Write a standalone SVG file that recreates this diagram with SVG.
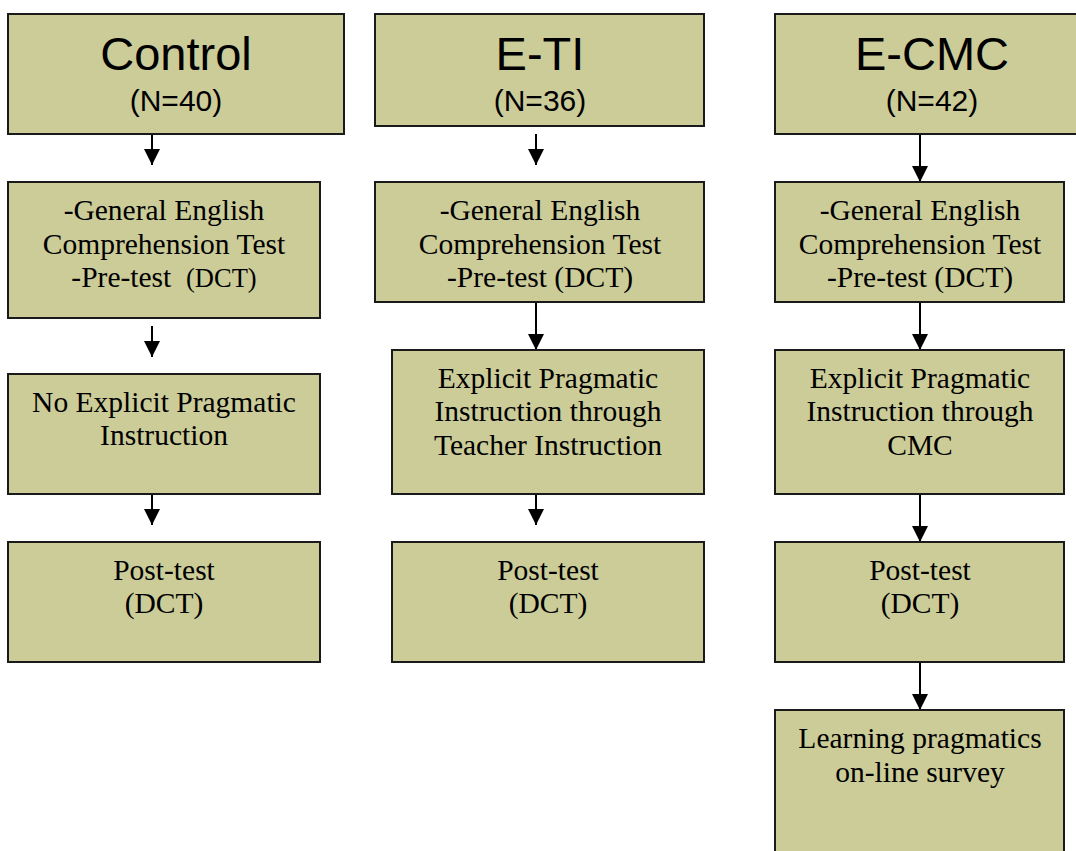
<svg xmlns="http://www.w3.org/2000/svg" width="1076" height="851" viewBox="0 0 1076 851">
<style>
.box{fill:#cccc99;stroke:#1a1a1a;stroke-width:2}
.h1{font-family:"Liberation Sans",Arial,sans-serif;font-size:47px;text-anchor:middle;fill:#000}
.h2{font-family:"Liberation Sans",Arial,sans-serif;font-size:30px;text-anchor:middle;fill:#000}
.t{font-family:"Liberation Serif","Times New Roman",serif;font-size:29.5px;text-anchor:middle;fill:#000}
.c{stroke:#000;stroke-width:2;fill:none}
</style>
<defs>
<marker id="ah" markerUnits="userSpaceOnUse" markerWidth="18" markerHeight="16" refX="16" refY="8" orient="auto">
<path d="M0,0 L16,8 L0,16 Z" fill="#000"/>
</marker>
</defs>
<rect width="1076" height="851" fill="#fff"/>
<g id="connectors">
<line class="c" x1="152" y1="134" x2="152" y2="165" marker-end="url(#ah)"/>
<line class="c" x1="152" y1="326" x2="152" y2="357" marker-end="url(#ah)"/>
<line class="c" x1="152" y1="494" x2="152" y2="525" marker-end="url(#ah)"/>
<line class="c" x1="536" y1="134" x2="536" y2="165" marker-end="url(#ah)"/>
<line class="c" x1="536" y1="302" x2="536" y2="350" marker-end="url(#ah)"/>
<line class="c" x1="536" y1="494" x2="536" y2="525" marker-end="url(#ah)"/>
<line class="c" x1="920" y1="134" x2="920" y2="182" marker-end="url(#ah)"/>
<line class="c" x1="920" y1="302" x2="920" y2="350" marker-end="url(#ah)"/>
<line class="c" x1="920" y1="494" x2="920" y2="542" marker-end="url(#ah)"/>
<line class="c" x1="920" y1="662" x2="920" y2="710" marker-end="url(#ah)"/>
</g>
<g id="control-header">
<rect class="box" x="8" y="14" width="336" height="120"/>
<text class="h1" x="176" y="70">Control</text>
<text class="h2" x="176" y="111">(N=40)</text>
</g>
<g id="control-pretest">
<rect class="box" x="8" y="182" width="312" height="136"/>
<text class="t" x="164" y="220">-General English</text>
<text class="t" x="164" y="254">Comprehension Test</text>
<text class="t" x="164" y="287" xml:space="preserve">-Pre-test  <tspan font-size="26.5px">(DCT)</tspan></text>
</g>
<g id="control-instruction">
<rect class="box" x="8" y="374" width="312" height="120"/>
<text class="t" x="164" y="412">No Explicit Pragmatic</text>
<text class="t" x="164" y="445">Instruction</text>
</g>
<g id="control-posttest">
<rect class="box" x="8" y="542" width="312" height="120"/>
<text class="t" x="164" y="580">Post-test</text>
<text class="t" x="164" y="613">(DCT)</text>
</g>
<g id="eti-header">
<rect class="box" x="375" y="14" width="329" height="112"/>
<text class="h1" x="540" y="70">E-TI</text>
<text class="h2" x="540" y="111">(N=36)</text>
</g>
<g id="eti-pretest">
<rect class="box" x="375" y="182" width="329" height="120"/>
<text class="t" x="540" y="220">-General English</text>
<text class="t" x="540" y="254">Comprehension Test</text>
<text class="t" x="540" y="287">-Pre-test (DCT)</text>
</g>
<g id="eti-instruction">
<rect class="box" x="392" y="350" width="312" height="144"/>
<text class="t" x="548" y="388">Explicit Pragmatic</text>
<text class="t" x="548" y="421">Instruction through</text>
<text class="t" x="548" y="455">Teacher Instruction</text>
</g>
<g id="eti-posttest">
<rect class="box" x="392" y="542" width="312" height="120"/>
<text class="t" x="548" y="580">Post-test</text>
<text class="t" x="548" y="613">(DCT)</text>
</g>
<g id="ecmc-header">
<rect class="box" x="775" y="14" width="314" height="120"/>
<text class="h1" x="932" y="70">E-CMC</text>
<text class="h2" x="932" y="111">(N=42)</text>
</g>
<g id="ecmc-pretest">
<rect class="box" x="775" y="182" width="289" height="120"/>
<text class="t" x="920" y="220">-General English</text>
<text class="t" x="920" y="254">Comprehension Test</text>
<text class="t" x="920" y="287">-Pre-test (DCT)</text>
</g>
<g id="ecmc-instruction">
<rect class="box" x="775" y="350" width="289" height="144"/>
<text class="t" x="920" y="388">Explicit Pragmatic</text>
<text class="t" x="920" y="421">Instruction through</text>
<text class="t" x="920" y="455">CMC</text>
</g>
<g id="ecmc-posttest">
<rect class="box" x="775" y="542" width="289" height="120"/>
<text class="t" x="920" y="580">Post-test</text>
<text class="t" x="920" y="613">(DCT)</text>
</g>
<g id="ecmc-survey">
<rect class="box" x="775" y="710" width="289" height="150"/>
<text class="t" x="920" y="748">Learning pragmatics</text>
<text class="t" x="920" y="782">on-line survey</text>
</g>
</svg>
